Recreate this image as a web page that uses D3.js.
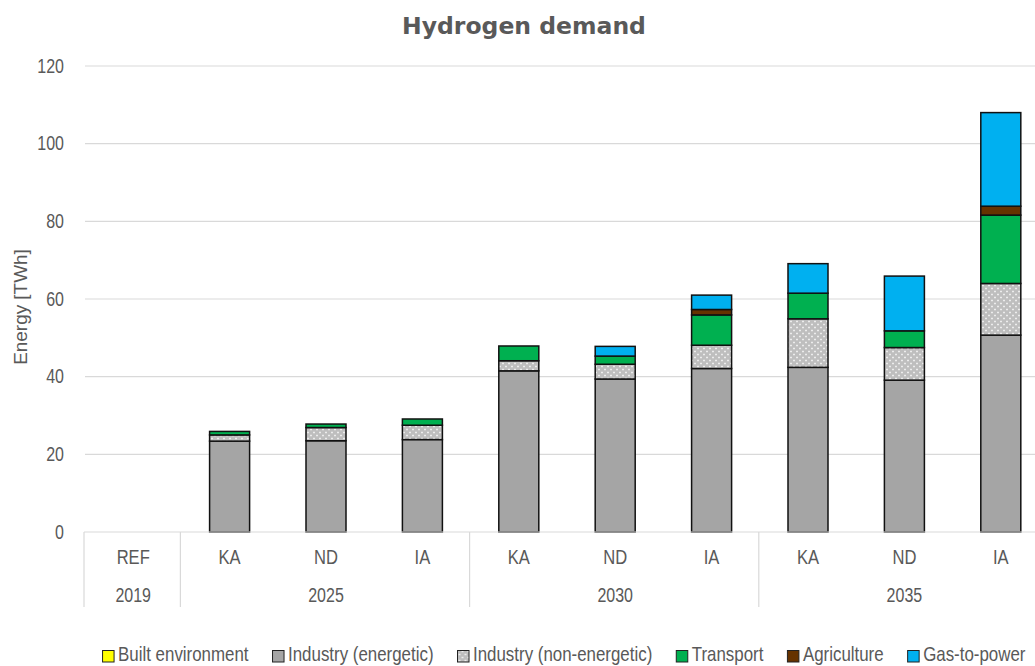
<!DOCTYPE html>
<html>
<head>
<meta charset="utf-8">
<script src="https://cdn.jsdelivr.net/npm/d3@7"></script>
<style>
  html, body { margin: 0; padding: 0; background: #fff; }
  svg { display: block; }
  .narrow { font-family: "Liberation Sans", Arial, sans-serif; }
</style>
</head>
<body>
<div id="chart"></div>
<script>
// hydrogen demand - stacked bars, multi-level category axis

const categories = ["REF", "KA", "ND", "IA", "KA", "ND", "IA", "KA", "ND", "IA"];
const groupLabels = ["2019", "2025", "2030", "2035"];
const groupSizes = [1, 3, 3, 3];
const yTicks = [0, 20, 40, 60, 80, 100, 120];

const seriesNames = ["Built environment", "Industry (energetic)", "Industry (non-energetic)", "Transport", "Agriculture", "Gas-to-power"];
const builtEnvironment = [0, 0, 0, 0, 0, 0, 0, 0, 0, 0];
const industryEnergetic = [0, 23.4, 23.5, 23.8, 41.5, 39.4, 42.1, 42.4, 39.1, 50.7];
const industryNonEnergetic = [0, 1.6, 3.4, 3.7, 2.6, 3.8, 6.0, 12.5, 8.4, 13.3];
const transport = [0, 0.9, 0.9, 1.6, 3.8, 2.1, 7.8, 6.6, 4.3, 17.6];
const agriculture = [0, 0, 0, 0, 0, 0, 1.4, 0, 0, 2.3];
const gasToPower = [0, 0, 0, 0, 0, 2.5, 3.7, 7.6, 14.1, 24.1];

const seriesValues = [builtEnvironment, industryEnergetic, industryNonEnergetic, transport, agriculture, gasToPower];
const seriesFills = ["#FFFF00", "#A5A5A5", "url(#hatch)", "#00B050", "#663300", "#00B0F0"];

const W = 1035, H = 666;
const plot = { left: 85, right: 1049, top: 66, bottom: 532 };
const squeeze = 0.85; // no Arial Narrow here, so compress Liberation Sans

const svg = d3.select("#chart").append("svg")
    .attr("width", W)
    .attr("height", H);

// squash text horizontally to mimic a narrow face
function condense(sel, ratio) {
    sel.each(function() {
        const w = this.getComputedTextLength();
        d3.select(this)
            .attr("textLength", w * ratio)
            .attr("lengthAdjust", "spacingAndGlyphs");
    });
}

// hatch pattern for non-energetic industry
const defs = svg.append("defs");
const pat = defs.append("pattern")
    .attr("id", "hatch")
    .attr("patternUnits", "userSpaceOnUse")
    .attr("width", 6)
    .attr("height", 6);
pat.append("rect").attr("width", 6).attr("height", 6).attr("fill", "#BEBEBE");
pat.append("path")
    .attr("d", "M1,0.5h2M2,-0.5v2M4,3.5h2M5,2.5v2M1,6.5h2M2,5.5v2")
    .attr("stroke", "#ECECEC")
    .attr("stroke-width", 1)
    .attr("fill", "none");

const table = d3.range(categories.length).map(i => {
    const row = { i };
    seriesNames.forEach((s, k) => row[s] = seriesValues[k][i]);
    return row;
});

const x = d3.scaleBand()
    .domain(d3.range(categories.length))
    .range([plot.left, plot.right])
    .padding(0);
const barW = x.bandwidth() * 0.415;

const y = d3.scaleLinear().domain([0, 120]).range([plot.bottom, plot.top]);

// gridlines
svg.append("g").selectAll("line")
    .data(yTicks.filter(t => t > 0))
    .join("line")
    .attr("x1", plot.left).attr("x2", plot.right)
    .attr("y1", d => y(d)).attr("y2", d => y(d))
    .attr("stroke", "#D9D9D9")
    .attr("stroke-width", 1.2);

// y axis labels
const yAxis = svg.append("g")
    .attr("transform", `translate(${plot.left}, 0)`)
    .call(d3.axisLeft(y).tickValues(yTicks).tickSize(0).tickPadding(21));
yAxis.select(".domain").remove();
yAxis.selectAll("text")
    .attr("class", "narrow")
    .style("font-family", "'Liberation Sans', Arial, sans-serif")
    .style("font-size", "19.5px")
    .attr("fill", "#595959")
    .call(condense, 0.82);

svg.append("text")
    .attr("class", "narrow")
    .attr("transform", "translate(27, 307) rotate(-90)")
    .attr("text-anchor", "middle")
    .style("font-size", "18px")
    .attr("fill", "#595959")
    .text("Energy [TWh]")
    .call(condense, 1.05);

// stacked bars
const stack = d3.stack().keys(seriesNames);
const layers = stack(table);

const barG = svg.append("g");
layers.forEach((layer, k) => {
    barG.append("g")
        .selectAll("rect")
        .data(layer.filter(d => d[1] - d[0] > 0))
        .join("rect")
        .attr("x", d => x(d.data.i) + (x.bandwidth() - barW) / 2)
        .attr("y", d => y(d[1]))
        .attr("width", barW)
        .attr("height", d => y(d[0]) - y(d[1]))
        .attr("fill", seriesFills[k])
        .attr("stroke", "#111")
        .attr("stroke-width", 1.5);
});

// category axis (two levels)
const axisG = svg.append("g");
axisG.append("line")
    .attr("x1", plot.left - 1).attr("x2", plot.right)
    .attr("y1", plot.bottom).attr("y2", plot.bottom)
    .attr("stroke", "#D9D9D9")
    .attr("stroke-width", 1.2);

axisG.selectAll("text.cat")
    .data(categories)
    .join("text")
    .attr("class", "cat narrow")
    .attr("x", (d, i) => x(i) + x.bandwidth() / 2)
    .attr("y", 564)
    .attr("text-anchor", "middle")
    .style("font-size", "19.5px")
    .attr("fill", "#595959")
    .text(d => d)
    .call(condense, squeeze);

let start = 0;
const groups = groupLabels.map((g, k) => {
    const o = { label: g, from: start, to: start + groupSizes[k] - 1 };
    start += groupSizes[k];
    return o;
});

axisG.selectAll("text.grp")
    .data(groups)
    .join("text")
    .attr("class", "grp narrow")
    .attr("x", d => (x(d.from) + x(d.to) + x.bandwidth()) / 2)
    .attr("y", 602)
    .attr("text-anchor", "middle")
    .style("font-size", "19.5px")
    .attr("fill", "#595959")
    .text(d => d.label)
    .call(condense, 0.82);

const seps = [0].concat(groups.map(d => d.to + 1));
axisG.selectAll("line.sep")
    .data(seps)
    .join("line")
    .attr("class", "sep")
    .attr("x1", d => d < categories.length ? x(d) - 1 : plot.right)
    .attr("x2", d => d < categories.length ? x(d) - 1 : plot.right)
    .attr("y1", plot.bottom).attr("y2", 607)
    .attr("stroke", "#D9D9D9")
    .attr("stroke-width", 1.2);

// title
svg.append("text")
    .attr("x", 524)
    .attr("y", 34)
    .attr("text-anchor", "middle")
    .style("font-family", "'DejaVu Sans', sans-serif")
    .style("font-weight", "bold")
    .style("font-size", "23.5px")
    .attr("fill", "#595959")
    .text("Hydrogen demand");

// legend, centred under the plot; text scaled with a transform so its box is the drawn size
const legendScale = 0.845;
const legend = svg.append("g");
const items = legend.selectAll("g")
    .data(seriesNames)
    .join("g");
items.append("rect")
    .attr("y", 650.5)
    .attr("width", 11.5)
    .attr("height", 11.5)
    .attr("fill", (d, k) => seriesFills[k])
    .attr("stroke", "#222")
    .attr("stroke-width", 1);
items.append("text")
    .attr("class", "narrow")
    .attr("transform", `translate(15.5, 661) scale(${legendScale}, 1)`)
    .style("font-size", "20px")
    .attr("fill", "#595959")
    .text(d => d);

const widths = [];
items.each(function() {
    const t = d3.select(this).select("text").node();
    widths.push(15.5 + t.getComputedTextLength() * legendScale);
});
const gap = 24;
const total = d3.sum(widths) + gap * (widths.length - 1);
let cx = 564 - total / 2;
items.attr("transform", (d, k) => {
    const t = `translate(${cx}, 0)`;
    cx += widths[k] + gap;
    return t;
});
</script>
</body>
</html>
